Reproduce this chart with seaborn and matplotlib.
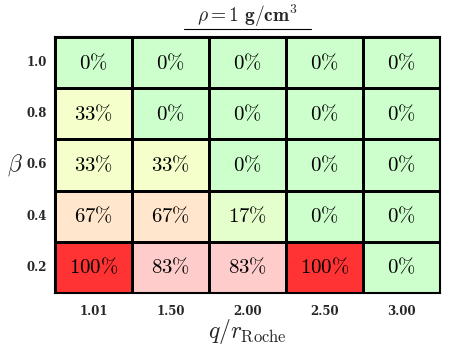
import matplotlib
matplotlib.use("Agg")
import matplotlib.pyplot as plt
import seaborn as sns
import numpy as np
import pandas as pd
from matplotlib.colors import ListedColormap, BoundaryNorm

q_labels = ["1.01", "1.50", "2.00", "2.50", "3.00"]
beta_labels = ["1.0", "0.8", "0.6", "0.4", "0.2"]
values = [
    [0, 0, 0, 0, 0],
    [33, 0, 0, 0, 0],
    [33, 33, 0, 0, 0],
    [67, 67, 17, 0, 0],
    [100, 83, 83, 100, 0],
]
level_bounds = [-1, 8, 25, 50, 75, 92, 101]
level_colors = ["#ccffcc", "#e5ffcc", "#f5ffcc", "#ffe6cc", "#ffcccc", "#ff3333"]

sns.set_style("white")
plt.rcParams["mathtext.fontset"] = "cm"
plt.rcParams["font.family"] = ["DejaVu Serif"]

df = pd.DataFrame(values, index=beta_labels, columns=q_labels)
annot = np.array([[r"$%d\%%$" % v for v in row] for row in values])

fig = plt.figure(figsize=(4.63, 3.47), dpi=100)
ax = fig.add_axes([0.119, 0.156, 0.831, 0.737])
cmap = ListedColormap(level_colors)
norm = BoundaryNorm(level_bounds, cmap.N)
sns.heatmap(df, ax=ax, cmap=cmap, norm=norm, annot=annot, fmt="", cbar=False,
            linewidths=1.0, linecolor="black",
            annot_kws={"fontsize": 15, "color": "black"})
for s in ax.spines.values():
    s.set_visible(True)
    s.set_linewidth(1.5)
    s.set_color("black")

ax.set_xticklabels(q_labels, fontsize=8.5, fontweight="bold", rotation=0)
ax.set_yticklabels(beta_labels, fontsize=8.5, fontweight="bold", rotation=0)
ax.tick_params(axis="x", length=0, pad=9)
ax.tick_params(axis="y", length=0, pad=6)
ax.set_xlabel(r"$q/r_{\mathrm{Roche}}$", fontsize=17, labelpad=-1)
ax.set_ylabel(r"$\beta$", fontsize=17, rotation=0, labelpad=8, va="center")
ax.set_title(r"$\rho = \mathbf{1\ g/cm^3}$", fontsize=14, pad=11)
ax.plot([0.335, 0.665], [1.03, 1.03], transform=ax.transAxes, color="black",
        lw=0.8, clip_on=False)

fig.savefig("out.png", dpi=100)
